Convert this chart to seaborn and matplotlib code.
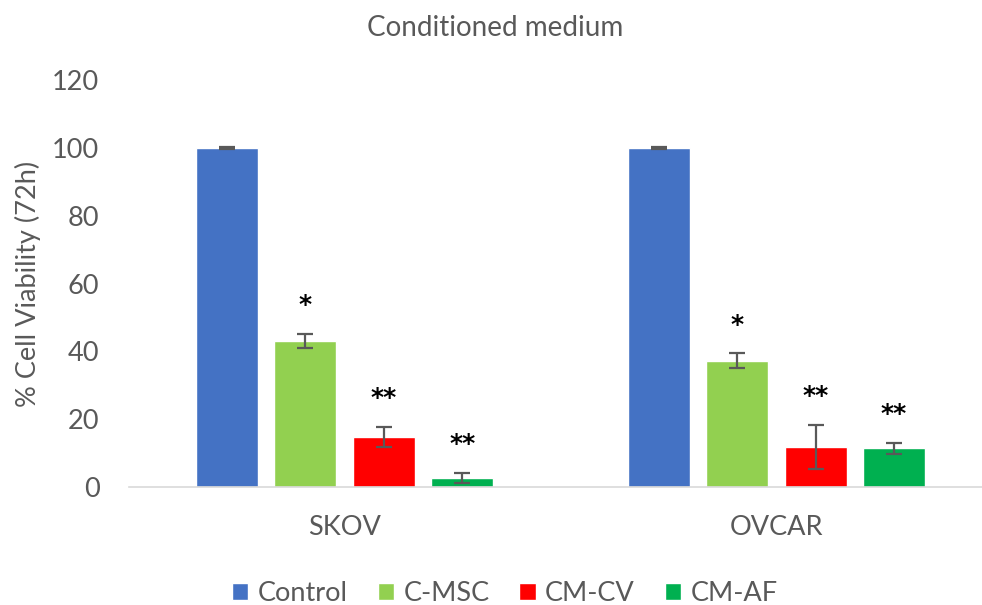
import matplotlib
matplotlib.use("Agg")
import matplotlib.pyplot as plt
import seaborn as sns
import pandas as pd

cells = ["SKOV", "OVCAR"]
treatments = ["Control", "C-MSC", "CM-CV", "CM-AF"]
skov_vals = [100.0, 43.1, 14.8, 2.6]
skov_err = [0.2, 2.0, 2.9, 1.5]
ovcar_vals = [100.0, 37.3, 11.9, 11.4]
ovcar_err = [0.2, 2.1, 6.5, 1.6]
skov_sig = ["", "*", "**", "**"]
ovcar_sig = ["", "*", "**", "**"]
colors = ["#4472C4", "#92D050", "#FF0000", "#00B050"]

rows = []
for cell, vals, errs, sigs in [("SKOV", skov_vals, skov_err, skov_sig),
                               ("OVCAR", ovcar_vals, ovcar_err, ovcar_sig)]:
    for t, v, e, s in zip(treatments, vals, errs, sigs):
        rows.append(dict(cell=cell, treat=t, val=v, err=e, sig=s))
df = pd.DataFrame(rows)

sns.set_theme(style="white")
plt.rcParams["font.family"] = ["Lato", "DejaVu Sans"]

fig = plt.figure(figsize=(9.82, 6.05), dpi=100)
ax = fig.add_axes([0.1309, 0.195, 0.869, 0.6727])

sns.barplot(data=df, x="cell", y="val", hue="treat", order=cells,
            hue_order=treatments, palette=colors, width=0.727, gap=0.21,
            saturation=1, errorbar=None, ax=ax, legend=True)

grey = "#595959"
for ci, t in enumerate(treatments):
    cont = ax.containers[ci]
    for bar, cell in zip(cont, cells):
        row = df[(df.cell == cell) & (df.treat == t)].iloc[0]
        xc = bar.get_x() + bar.get_width() / 2
        ax.errorbar(xc, row.val, yerr=row.err, color=grey, capsize=6,
                    elinewidth=1.6, capthick=1.6, fmt="none", zorder=3)
        if row.sig:
            ax.text(xc, row.val + row.err + 8.5, row.sig, ha="center",
                    va="center", fontsize=18, fontweight="bold",
                    color="black", family="DejaVu Sans")

ax.set_ylim(0, 120)
ax.set_yticks(range(0, 121, 20))
ax.set_xlim(-0.5, 1.476)
ax.tick_params(axis="y", labelsize=19.5, labelcolor=grey, length=0, pad=21)
ax.tick_params(axis="x", labelsize=19.5, labelcolor=grey, length=0, pad=20)
for s in ["top", "right", "left"]:
    ax.spines[s].set_visible(False)
ax.spines["bottom"].set_color("#D9D9D9")
ax.spines["bottom"].set_linewidth(1.2)
ax.set_xlabel("")
ax.set_ylabel("% Cell Viability (72h)", fontsize=19.5, color=grey, labelpad=8)
fig.text(0.5046, 0.953, "Conditioned medium", ha="center", va="center",
         fontsize=20, color=grey)

leg = ax.legend(loc="center", bbox_to_anchor=(0.441, -0.262),
                ncol=4, frameon=False, fontsize=19.5, handlelength=0.6,
                handleheight=0.6, columnspacing=1.1, handletextpad=0.35)
for txt in leg.get_texts():
    txt.set_color(grey)

fig.savefig("out.png", dpi=100)
